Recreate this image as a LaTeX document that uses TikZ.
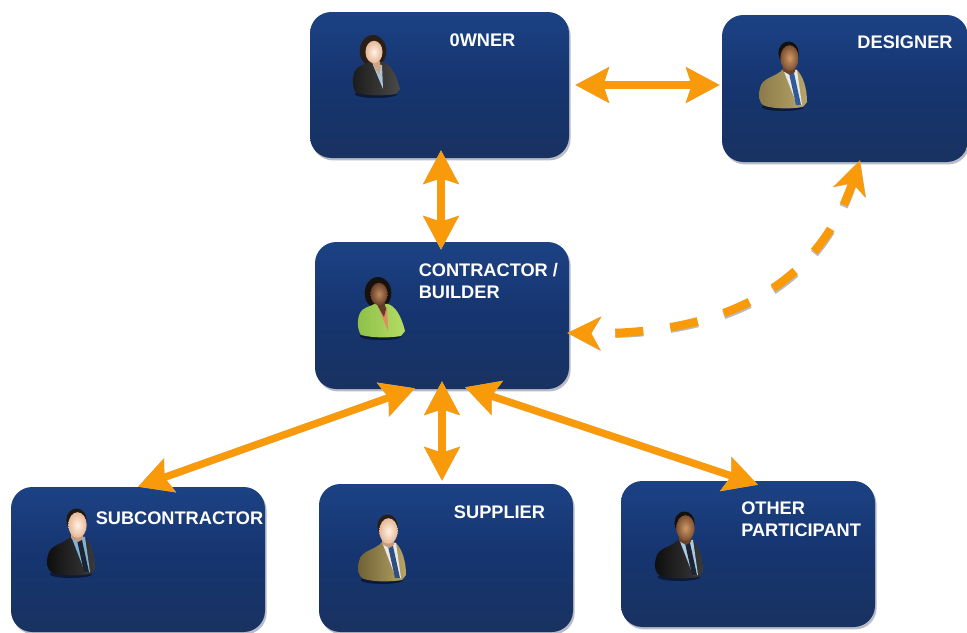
\documentclass[tikz,border=0pt]{standalone}
\usepackage{fontspec}
\setmainfont{Liberation Sans}
\usetikzlibrary{arrows.meta,calc,shadows}
\definecolor{boxtop}{HTML}{1C4284}
\definecolor{boxmid}{HTML}{16346F}
\definecolor{boxbot}{HTML}{183361}
\definecolor{arrowor}{HTML}{F99A0B}
\definecolor{arrowsh}{HTML}{B9BCC6}
\tikzset{
  stagebox/.style={rounded corners=16pt, inner sep=0pt, top color=boxtop, bottom color=boxbot, middle color=boxmid, draw=none,
    drop shadow={shadow xshift=1.2pt, shadow yshift=-1.8pt, fill=arrowsh, opacity=1}},
  lab/.style={text=white, font=\fontsize{13.65}{16.5}\selectfont\bfseries, inner sep=0pt, align=left},
  solidtips/.style={{Stealth[length=25pt,width=26pt,inset=4pt]}-{Stealth[length=25pt,width=26pt,inset=4pt]}, line width=5.4pt},
  dashtips/.style={{Stealth[length=25pt,width=25pt,inset=7pt]}-{Stealth[length=25pt,width=25pt,inset=7pt]}, line width=6.4pt,
    dash pattern=on 21pt off 20.5pt, dash phase=22pt}
}
\newcommand\setpersoncolors[7]{%
  \definecolor{pjl}{HTML}{#1}\definecolor{pjd}{HTML}{#2}\definecolor{psh}{HTML}{#3}%
  \definecolor{pti}{HTML}{#4}\definecolor{psk}{HTML}{#5}\definecolor{pha}{HTML}{#6}\definecolor{pfc}{HTML}{#7}}
\newcommand\manicon[2]{%
  \begin{scope}[shift={(#1,#2)}]
    \fill[black!50!boxmid] (0,-1) ellipse (16pt and 3pt);
    \path[left color=pjd, right color=pjl] (-18,-2) .. controls (-25,-5) and (-25,-14) .. (-23,-20)
      .. controls (-21,-31) and (-6,-31) .. (0,-39) -- (14,-38) .. controls (20,-32) and (24,-20) .. (24,-6)
      -- (20,-1) .. controls (8,1) and (-8,1) .. cycle;
    \fill[psh] (0,-39) -- (14,-38) -- (19,-3) -- (14,-3) -- cycle;
    \fill[pti] (6,-35) -- (11,-35) -- (18,-3) -- (13,-3) -- cycle;
    \fill[psk!85!black] (0,-42) -- (12,-42) -- (12,-36) -- (7,-33) -- (0,-37) -- cycle;
    \fill[pha] (5.5,-55) ellipse (7.6pt and 8.6pt);
    \path[inner color=pfc, outer color=psk] (6.5,-50) ellipse (6.9pt and 9.6pt);
  \end{scope}}
\newcommand\womanicon[2]{%
  \begin{scope}[shift={(#1,#2)}]
    \fill[black!50!boxmid] (0,-1) ellipse (16pt and 3pt);
    \fill[pha] (-3,-44) ellipse (10pt and 12pt);
    \path[left color=pjd, right color=pjl] (-20,-2) .. controls (-24,-8) and (-24,-18) .. (-21,-24)
      .. controls (-17,-31) and (-10,-30) .. (-5,-34) -- (7,-33) .. controls (14,-31) and (20,-22) .. (24,-6)
      -- (20,-1) .. controls (8,1) and (-8,1) .. cycle;
    \fill[psh] (-3,-30) -- (6,-30) -- (7,-6) -- cycle;
    \fill[psk!90!black] (-6,-36) -- (3,-36) -- (5,-28) -- (3,-20) -- cycle;
    \path[inner color=pfc, outer color=psk] (-2,-43) ellipse (6.4pt and 8.4pt);
  \end{scope}}
\begin{document}
\begin{tikzpicture}[x=0.75pt,y=-0.75pt]
\useasboundingbox (0,0) rectangle (967,632);
\clip (0,0) rectangle (967,632);
\fill[white] (0,0) rectangle (967,632);

\node[stagebox, minimum width=194.25pt, minimum height=109.5pt] (owner) at (439.5,85) {};
\node[stagebox, minimum width=184.5pt, minimum height=110.25pt] (designer) at (845,88.5) {};
\node[stagebox, minimum width=190.5pt, minimum height=110.25pt] (contractor) at (442,315.5) {};
\node[stagebox, minimum width=190.5pt, minimum height=108.75pt] (sub) at (138,559.5) {};
\node[stagebox, minimum width=190.5pt, minimum height=111pt] (supplier) at (446,558) {};
\node[stagebox, minimum width=190.5pt, minimum height=109.5pt] (other) at (748,554) {};

\node[lab, anchor=center] (ownerlab) at (482.5,40) {0WNER};
\node[lab, anchor=center] (designerlab) at (905,42) {DESIGNER};
\node[lab, anchor=west] (contractorlab) at (418.5,281) {CONTRACTOR /\\BUILDER};
\node[lab, anchor=west] (sublab) at (95.5,518) {SUBCONTRACTOR};
\node[lab, anchor=center] (supplierlab) at (499.5,512) {SUPPLIER};
\node[lab, anchor=west] (otherlab) at (741,519) {OTHER\\PARTICIPANT};

\setpersoncolors{4A4A48}{1B1B1B}{A9C6D8}{A9C6D8}{E6B896}{2A1E18}{FFF1E6}\womanicon{376}{95}
\setpersoncolors{B8A56A}{8A7A48}{E8E8E8}{2F5C98}{7A4E30}{14100D}{D09A68}\manicon{783}{108}
\setpersoncolors{B4DC64}{8FC04A}{E08A60}{E08A60}{6A4028}{17110E}{BE8A62}\womanicon{381}{337}
\setpersoncolors{3A3A3A}{0E0E0E}{7FB2DC}{1B2430}{E6B896}{1E1712}{FFF1E6}\manicon{71}{575}
\setpersoncolors{B7A467}{6F6034}{E8E8E8}{2F4E80}{E6B896}{2A1E14}{FFF1E6}\manicon{382}{581}
\setpersoncolors{3A3A3A}{0E0E0E}{A8CCE8}{1B2430}{7A4E30}{14100D}{D09A68}\manicon{679}{578}

% drop shadows of the arrows
\begin{scope}[shift={(1.6,2)}, arrowsh]
  \draw[solidtips] ($(owner.east)+(6,0)$) -- ($(designer.west)+(-2,-3.5)$);
  \draw[solidtips] ($(owner.south)+(1.5,-8)$) -- ($(contractor.north)+(-1,8)$);
  \draw[solidtips] ($(contractor.south)+(0,-8)$) -- ($(supplier.north)+(-4,-3)$);
  \draw[solidtips] ($(contractor.south)+(-27,-1)$) -- (sub.north);
  \draw[solidtips] ($(contractor.south)+(23,-2)$) -- ($(other.north)+(10,4)$);
  \draw[dashtips] ($(contractor.east)+(-2,17.5)$) .. controls (710,335) and (815,295) .. ($(designer.south)+(15,-2)$);
\end{scope}
\begin{scope}[arrowor]
  \draw[solidtips] ($(owner.east)+(6,0)$) -- ($(designer.west)+(-2,-3.5)$);
  \draw[solidtips] ($(owner.south)+(1.5,-8)$) -- ($(contractor.north)+(-1,8)$);
  \draw[solidtips] ($(contractor.south)+(0,-8)$) -- ($(supplier.north)+(-4,-3)$);
  \draw[solidtips] ($(contractor.south)+(-27,-1)$) -- (sub.north);
  \draw[solidtips] ($(contractor.south)+(23,-2)$) -- ($(other.north)+(10,4)$);
  \draw[dashtips] ($(contractor.east)+(-2,17.5)$) .. controls (710,335) and (815,295) .. ($(designer.south)+(15,-2)$);
\end{scope}
\end{tikzpicture}
\end{document}
